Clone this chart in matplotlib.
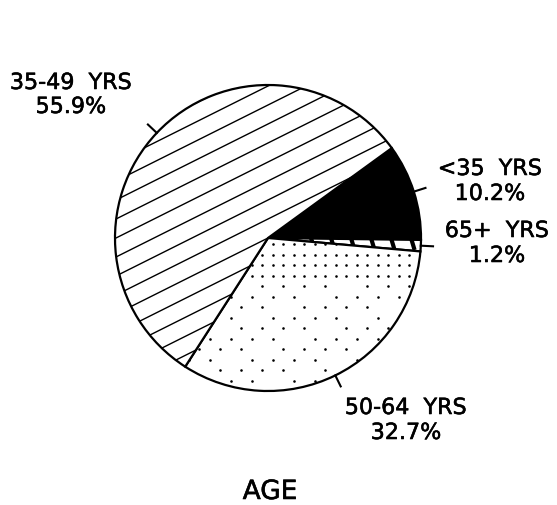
import numpy as np
import matplotlib
matplotlib.use('Agg')
import matplotlib.pyplot as plt
import matplotlib.patheffects as pe

# Age distribution (percent of respondents)
labels = ['<35  YRS', '65+  YRS', '50-64  YRS', '35-49  YRS']
shares = [10.2, 1.2, 32.7, 55.9]
pct_labels = ['10.2%', '1.2%', '32.7%', '55.9%']

W, H = 557, 506
fig = plt.figure(figsize=(W / 100, H / 100), dpi=100)
ax = fig.add_axes([0, 0, 1, 1])

cx, cy, R = 268, H - 239, 153
wedges, _ = ax.pie(shares, startangle=36, counterclock=False,
                   center=(cx, cy), radius=R,
                   colors=['black', 'white', 'white', 'white'],
                   wedgeprops=dict(edgecolor='black', linewidth=1.6))
ax.set_xlim(0, W)
ax.set_ylim(0, H)
ax.set_aspect('equal')
ax.axis('off')

xs = np.array([cx - R - 20, cx + R + 20])

# diagonal line fill for the 35-49 slice
slope = 0.5
for off in np.arange(-266, 266, 19):
    ln, = ax.plot(xs, cy + off + slope * (xs - cx), color='black', lw=1.0, zorder=3)
    ln.set_clip_path(wedges[3])

# short slanted strokes for the 65+ slice
for x0 in np.arange(cx - 20, cx + R + 20, 20):
    ln, = ax.plot([x0, x0 + 6], [cy + 10, cy - 10], color='black', lw=3, zorder=3)
    ln.set_clip_path(wedges[1])

# stipple for the 50-64 slice
gx, gy = np.meshgrid(np.arange(cx - R, cx + R, 10.5), np.arange(cy - R, cy + 5, 10.5))
gx, gy = gx.ravel(), gy.ravel()
ix, iy = np.round(gx / 10.5), np.round(gy / 10.5)
keep = (gy > cy - 45) | ((ix + iy) % 2 == 0) & ((ix * 3 + iy) % 5 != 0)
dots = ax.scatter(gx[keep], gy[keep], s=3.5, color='black', lw=0, zorder=3)
dots.set_clip_path(wedges[2])

# leader ticks at slice midpoints
for w in wedges:
    mid = np.deg2rad((w.theta1 + w.theta2) / 2)
    ax.plot([cx + R * np.cos(mid), cx + R * 1.08 * np.cos(mid)],
            [cy + R * np.sin(mid), cy + R * 1.08 * np.sin(mid)],
            color='black', lw=1.5, zorder=4)

label_pos = [(490, 170, 195), (497, 232, 257), (406, 409, 434), (71, 84, 108)]
thick = [pe.withStroke(linewidth=0.4, foreground='black')]
font = dict(family='DejaVu Sans', fontsize=16, ha='center', va='center', path_effects=thick)
for name, pct, (x, y1, y2) in zip(labels, pct_labels, label_pos):
    ax.text(x, H - y1, name, **font)
    ax.text(x, H - y2, pct, **font)

ax.text(270, H - 493, 'AGE', family='DejaVu Sans', fontsize=19, ha='center', va='center',
        path_effects=thick)

fig.savefig('out.png', dpi=100)
